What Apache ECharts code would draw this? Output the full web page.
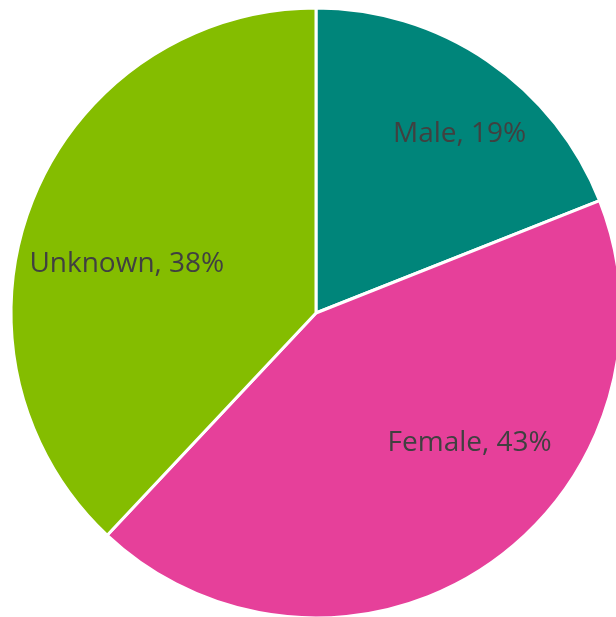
<!DOCTYPE html>
<html lang="en">
<head>
    <meta charset="UTF-8">
    <title>Gender</title>
    <script src="https://cdn.jsdelivr.net/npm/echarts@6/dist/echarts.min.js"></script>
</head>
<style>
html,body{margin: 0;padding: 0;background:#fff}
#chartBox{width: 616px;height: 617px}
</style>
<body>
    <div id="chartBox"></div>
</body>
<script>
// 数据
const categories = ['Male', 'Female', 'Unknown'];
const shares = [19, 43, 38];
const colors = ['#00857a', '#e6409a', '#84bd00'];
// 标签微调
const labelOffsets = [[25, -4], [35, -44], [7, 29]];

let chartObj = echarts.init(document.getElementById('chartBox'));
let pieData = categories.map((name, i) => ({
    name: name,
    value: shares[i],
    itemStyle: {color: colors[i]}
}));
let labelData = categories.map((name, i) => ({
    name: name,
    value: shares[i],
    label: {offset: labelOffsets[i]}
}));
let option = {
    animation: false,
    series: [
        {
            type: 'pie',
            center: [316, 313],
            radius: [0, 305],
            startAngle: 90,
            clockwise: true,
            silent: true,
            itemStyle: {borderColor: '#fff', borderWidth: 3},
            label: {show: false},
            labelLine: {show: false},
            data: pieData
        },
        {
            // 透明环, 只用来放标签
            type: 'pie',
            center: [316, 313],
            radius: [188, 228],
            startAngle: 90,
            clockwise: true,
            silent: true,
            itemStyle: {color: 'rgba(0,0,0,0)'},
            label: {
                show: true,
                position: 'inside',
                formatter: p => p.name + ', ' + p.value + '%',
                color: '#404040',
                fontSize: 28,
                fontFamily: 'Open Sans'
            },
            labelLine: {show: false},
            data: labelData
        }
    ]
};
chartObj.setOption(option);
</script>
</html>
